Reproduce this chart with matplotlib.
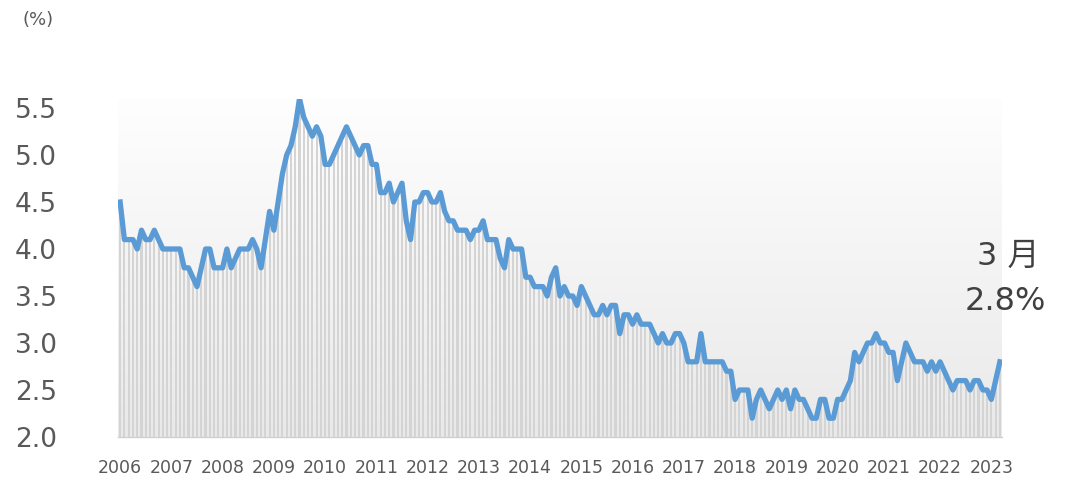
import numpy as np
import matplotlib
matplotlib.use("Agg")
import matplotlib.pyplot as plt
from matplotlib.colors import LinearSegmentedColormap

plt.rcParams['font.family'] = ['DejaVu Sans', 'Noto Sans CJK JP']

# Monthly unemployment rate (%), Jan 2006 - Mar 2023
rate_2006 = [4.5, 4.1, 4.1, 4.1, 4.0, 4.2, 4.1, 4.1, 4.2, 4.1, 4.0, 4.0]
rate_2007 = [4.0, 4.0, 4.0, 3.8, 3.8, 3.7, 3.6, 3.8, 4.0, 4.0, 3.8, 3.8]
rate_2008 = [3.8, 4.0, 3.8, 3.9, 4.0, 4.0, 4.0, 4.1, 4.0, 3.8, 4.1, 4.4]
rate_2009 = [4.2, 4.5, 4.8, 5.0, 5.1, 5.3, 5.6, 5.4, 5.3, 5.2, 5.3, 5.2]
rate_2010 = [4.9, 4.9, 5.0, 5.1, 5.2, 5.3, 5.2, 5.1, 5.0, 5.1, 5.1, 4.9]
rate_2011 = [4.9, 4.6, 4.6, 4.7, 4.5, 4.6, 4.7, 4.3, 4.1, 4.5, 4.5, 4.6]
rate_2012 = [4.6, 4.5, 4.5, 4.6, 4.4, 4.3, 4.3, 4.2, 4.2, 4.2, 4.1, 4.2]
rate_2013 = [4.2, 4.3, 4.1, 4.1, 4.1, 3.9, 3.8, 4.1, 4.0, 4.0, 4.0, 3.7]
rate_2014 = [3.7, 3.6, 3.6, 3.6, 3.5, 3.7, 3.8, 3.5, 3.6, 3.5, 3.5, 3.4]
rate_2015 = [3.6, 3.5, 3.4, 3.3, 3.3, 3.4, 3.3, 3.4, 3.4, 3.1, 3.3, 3.3]
rate_2016 = [3.2, 3.3, 3.2, 3.2, 3.2, 3.1, 3.0, 3.1, 3.0, 3.0, 3.1, 3.1]
rate_2017 = [3.0, 2.8, 2.8, 2.8, 3.1, 2.8, 2.8, 2.8, 2.8, 2.8, 2.7, 2.7]
rate_2018 = [2.4, 2.5, 2.5, 2.5, 2.2, 2.4, 2.5, 2.4, 2.3, 2.4, 2.5, 2.4]
rate_2019 = [2.5, 2.3, 2.5, 2.4, 2.4, 2.3, 2.2, 2.2, 2.4, 2.4, 2.2, 2.2]
rate_2020 = [2.4, 2.4, 2.5, 2.6, 2.9, 2.8, 2.9, 3.0, 3.0, 3.1, 3.0, 3.0]
rate_2021 = [2.9, 2.9, 2.6, 2.8, 3.0, 2.9, 2.8, 2.8, 2.8, 2.7, 2.8, 2.7]
rate_2022 = [2.8, 2.7, 2.6, 2.5, 2.6, 2.6, 2.6, 2.5, 2.6, 2.6, 2.5, 2.5]
rate_2023 = [2.4, 2.6, 2.8]

years = [str(y) for y in range(2006, 2024)]
yticks = [2.0, 2.5, 3.0, 3.5, 4.0, 4.5, 5.0, 5.5]
last_month_label = "3 月"
last_value_label = "2.8%"

rate = np.array(rate_2006 + rate_2007 + rate_2008 + rate_2009 + rate_2010
                + rate_2011 + rate_2012 + rate_2013 + rate_2014 + rate_2015
                + rate_2016 + rate_2017 + rate_2018 + rate_2019 + rate_2020
                + rate_2021 + rate_2022 + rate_2023)
months = np.arange(len(rate))

ymin, ymax = 2.0, 5.6
text_color = '#595959'

fig = plt.figure(figsize=(10.72, 4.8), dpi=100)
ax = fig.add_axes([118 / 1072, 43 / 480, 884 / 1072, 338.4 / 480])

# soft gradient behind the bars: near white at the top, light grey at the bottom
grad = np.linspace(0, 1, 256).reshape(-1, 1)
cmap = LinearSegmentedColormap.from_list('bg', ['#fefefe', '#e9e9e9'])
ax.imshow(grad, aspect='auto', cmap=cmap, zorder=0,
          extent=(-0.5, len(rate) - 0.5, ymin, ymax), origin='upper')

ax.bar(months, rate - ymin, bottom=ymin, width=0.5, color='#d4d4d4', zorder=1)
ax.plot(months, rate, color='#5b9bd5', lw=3.8, solid_joinstyle='round', zorder=3)

ax.set_xlim(-0.5, len(rate) - 0.5)
ax.set_ylim(ymin, ymax)

ax.set_yticks(yticks)
ax.set_yticklabels([f"{v:.1f}" for v in yticks], fontsize=19, color=text_color)
ax.set_xticks(np.arange(0, len(rate), 12))
ax.set_xticklabels(years, fontsize=12.5, color=text_color)
ax.tick_params(axis='both', length=0)
ax.tick_params(axis='y', pad=44)
ax.tick_params(axis='x', pad=16)

for side in ['top', 'right', 'left']:
    ax.spines[side].set_visible(False)
ax.spines['bottom'].set_color('#d0d0d0')
ax.spines['bottom'].set_linewidth(1.0)

fig.text(22 / 1072, 1 - 20 / 480, "(%)", fontsize=13, color=text_color, va='center')
fig.text(1008 / 1072, 1 - 256 / 480, last_month_label, fontsize=23,
         color='#404040', ha='center', va='center')
fig.text(1005 / 1072, 1 - 301 / 480, last_value_label, fontsize=23,
         color='#404040', ha='center', va='center')

fig.savefig("out.png", dpi=100)
